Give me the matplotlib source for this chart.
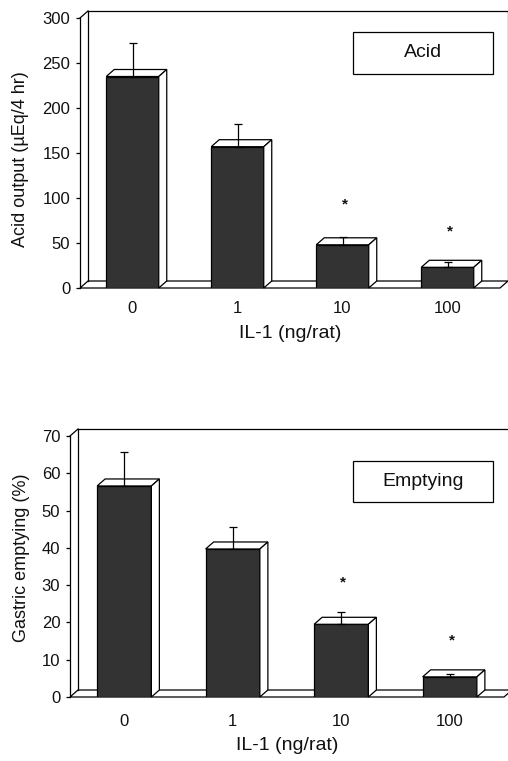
import matplotlib
matplotlib.use('Agg')
import matplotlib.pyplot as plt
from matplotlib.patches import Rectangle

plt.rcParams['font.family'] = ['Liberation Sans', 'DejaVu Sans']

# ---------------- data ----------------
doses = ['0', '1', '10', '100']
acid_mean = [235, 157, 48, 23]
acid_sem = [37, 25, 9, 6]
acid_star = [None, None, 99, 69]
empty_mean = [56.6, 39.7, 19.5, 5.4]
empty_sem = [9.2, 5.8, 3.2, 0.9]
empty_star = [None, None, 32, 16.6]
acid_ticks = [0, 50, 100, 150, 200, 250, 300]
empty_ticks = [0, 10, 20, 30, 40, 50, 60, 70]

W, H = 508, 761
fig = plt.figure(figsize=(W / 100, H / 100), dpi=100)


def px_axes(l, r, top, bottom):
    return [l / W, 1 - bottom / H, (r - l) / W, (bottom - top) / H]


ax1 = fig.add_axes(px_axes(80, 500, 18, 288))
ax2 = fig.add_axes(px_axes(70, 504, 436, 697))

LW = 0.9
BAR_COLOR = '#333333'


def panel(ax, means, sems, stars, ticks, ylabel, box_text, box, ylab_xy,
          tickpad, xlabelpad, dx=8, dy=7):
    n = len(doses)
    x = list(range(n))
    x0, x1 = -0.5, n - 0.5
    ymax = ticks[-1]
    ax.set_xlim(x0, x1)
    ax.set_ylim(0, ymax)
    bb = ax.get_window_extent()
    ux = dx * (x1 - x0) / bb.width
    uy = dy * ymax / bb.height

    # floor
    ax.fill([x0, x1, x1 + ux, x0 + ux], [0, 0, uy, uy], fc='white',
            ec='black', lw=LW, clip_on=False, zorder=1)
    # back wall / side wall lines
    kw = dict(color='black', lw=LW, clip_on=False, zorder=1)
    ax.plot([x0 + ux, x0 + ux], [uy, ymax + uy], **kw)
    ax.plot([x0, x0 + ux], [ymax, ymax + uy], **kw)
    ax.plot([x0 + ux, x1 + ux], [ymax + uy, ymax + uy], **kw)
    ax.plot([x1 + ux, x1 + ux], [uy, ymax + uy], **kw)

    bars = ax.bar(x, means, width=0.5, color=BAR_COLOR, edgecolor='black',
                  lw=LW, zorder=3)
    for p in bars.patches:
        xl = p.get_x()
        xr = xl + p.get_width()
        h = p.get_height()
        ax.fill([xl, xr, xr + ux, xl + ux], [h, h, h + uy, h + uy],
                fc='white', ec='black', lw=LW, zorder=3, clip_on=False)
        ax.fill([xr, xr + ux, xr + ux, xr], [0, uy, h + uy, h],
                fc='white', ec='black', lw=LW, zorder=3, clip_on=False)

    ax.errorbar(x, means, yerr=[[0] * n, sems], fmt='none', ecolor='black',
                elinewidth=LW, capsize=3, capthick=LW, zorder=5)

    fs_star = 11
    for xi, sy in zip(x, stars):
        if sy is not None:
            ax.annotate('*', (xi + 0.02, sy), xytext=(0, -0.6 * fs_star),
                        textcoords='offset points', ha='center',
                        va='baseline', fontsize=fs_star, color='#111111',
                        fontweight='bold', zorder=6)

    # label box
    bx0, bx1, by0, by1 = box
    ax.add_patch(Rectangle((bx0, by0), bx1 - bx0, by1 - by0,
                           transform=ax.transAxes, fc='white', ec='black',
                           lw=LW, zorder=4))
    ax.text((bx0 + bx1) / 2, (by0 + by1) / 2, box_text,
            transform=ax.transAxes, ha='center', va='center', fontsize=14,
            color='#111111', zorder=5)

    for s in ['top', 'right', 'bottom']:
        ax.spines[s].set_visible(False)
    ax.spines['left'].set_linewidth(LW)
    ax.spines['left'].set_zorder(2)

    ax.set_xticks(x)
    ax.set_xticklabels(doses)
    ax.set_yticks(ticks)
    ax.tick_params(axis='x', length=0, pad=tickpad, labelsize=12,
                   labelcolor='#111111')
    ax.tick_params(axis='y', direction='out', length=3, width=LW, pad=4.0,
                   labelsize=12, labelcolor='#111111')
    ax.set_ylabel(ylabel, fontsize=13, color='#111111')
    ax.yaxis.set_label_coords(*ylab_xy)
    ax.set_xlabel('IL-1 (ng/rat)', fontsize=14, labelpad=xlabelpad,
                  color='#111111')
    ax.patch.set_visible(False)


panel(ax1, acid_mean, acid_sem, acid_star, acid_ticks,
      'Acid output (\u00b5Eq/4 hr)', 'Acid',
      (0.65, 0.983, 0.793, 0.948), (-0.121, 0.478), 9.5, 6)
panel(ax2, empty_mean, empty_sem, empty_star, empty_ticks,
      'Gastric emptying (%)', 'Emptying',
      (0.652, 0.975, 0.747, 0.904), (-0.093, 0.534), 12.2, 5.8)

fig.savefig('out.png', dpi=100)
